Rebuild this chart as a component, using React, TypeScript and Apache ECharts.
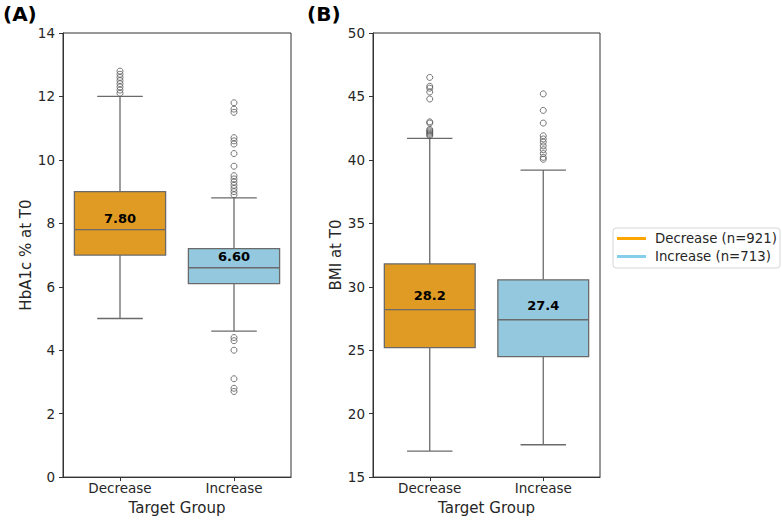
import React, { useEffect, useRef } from "react";
import * as echarts from "echarts";

// Groups on the x axis and their sizes
const categories = ["Decrease", "Increase"];
const groupCounts = [921, 713];

// Box statistics per group: [lower whisker, Q1, median, Q3, upper whisker]
const hba1cStats = [
  [5.0, 7.0, 7.8, 9.0, 12.0],
  [4.6, 6.1, 6.6, 7.2, 8.8],
];
const bmiStats = [
  [17.05, 25.2, 28.2, 31.8, 41.7],
  [17.55, 24.5, 27.4, 30.55, 39.2],
];

// Points beyond the whiskers
const hba1cOutliersDecrease = [12.1, 12.2, 12.3, 12.4, 12.5, 12.6, 12.7, 12.8];
const hba1cOutliersIncrease = [
  11.8, 11.6, 11.5, 10.7, 10.6, 10.5, 10.2, 9.8, 9.5, 9.4, 9.3, 9.2, 9.1, 9.0,
  8.9, 4.4, 4.3, 4.0, 3.1, 2.8, 2.7,
];
const bmiOutliersDecrease = [
  46.5, 45.8, 45.65, 45.35, 44.8, 43.0, 42.9, 42.4, 42.3, 42.2, 42.1, 42.0, 41.9,
];
const bmiOutliersIncrease = [
  45.2, 43.9, 42.9, 41.9, 41.65, 41.4, 41.1, 40.8, 40.5, 40.2, 40.05,
];

// Axis ranges and ticks
const hba1cAxis = { min: 0, max: 14, interval: 2 };
const bmiAxis = { min: 15, max: 50, interval: 5 };

const boxColors = ["#E09B24", "#93C8DF"];
const legendColors = ["#FFA500", "#87CEEB"];
const FONT = "DejaVu Sans";
const EDGE = "#6a6a6a";

function boxRows(stats: number[][]) {
  return stats.map((s, i) => [i, ...s]);
}

function outlierRows(lists: number[][]) {
  const rows: number[][] = [];
  lists.forEach((vals, i) => vals.forEach((v) => rows.push([i, v])));
  return rows;
}

function makeRenderItem(digits: number, labelOffset: number) {
  return (params: any, api: any) => {
    const c = api.value(0);
    const lo = api.coord([c, api.value(1)]);
    const q1 = api.coord([c, api.value(2)]);
    const med = api.coord([c, api.value(3)]);
    const q3 = api.coord([c, api.value(4)]);
    const hi = api.coord([c, api.value(5)]);
    const band = api.size([1, 0])[0];
    const w = band * 0.8;
    const cap = w / 2;
    const cx = med[0];
    const fill = boxColors[params.dataIndex];
    const lineStyle = { stroke: EDGE, lineWidth: 1.3 };
    return {
      type: "group",
      children: [
        { type: "line", shape: { x1: cx, y1: hi[1], x2: cx, y2: q3[1] }, style: lineStyle },
        { type: "line", shape: { x1: cx, y1: q1[1], x2: cx, y2: lo[1] }, style: lineStyle },
        { type: "line", shape: { x1: cx - cap / 2, y1: hi[1], x2: cx + cap / 2, y2: hi[1] }, style: lineStyle },
        { type: "line", shape: { x1: cx - cap / 2, y1: lo[1], x2: cx + cap / 2, y2: lo[1] }, style: lineStyle },
        {
          type: "rect",
          shape: { x: cx - w / 2, y: q3[1], width: w, height: q1[1] - q3[1] },
          style: { fill, stroke: EDGE, lineWidth: 1.3 },
        },
        { type: "line", shape: { x1: cx - w / 2, y1: med[1], x2: cx + w / 2, y2: med[1] }, style: lineStyle },
        {
          type: "text",
          x: cx,
          y: med[1] - labelOffset,
          style: {
            text: Number(api.value(3)).toFixed(digits),
            align: "center",
            verticalAlign: "middle",
            textAlign: "center",
            textVerticalAlign: "middle",
            fontFamily: FONT,
            fontWeight: "bold",
            fontSize: 13,
            fill: "#000",
          },
        },
      ],
    };
  };
}

const tickText = { fontFamily: FONT, fontSize: 13.5, color: "#262626" };

function xAxisFor(gridIndex: number) {
  return {
    type: "category",
    gridIndex,
    data: categories,
    name: "Target Group",
    nameLocation: "middle",
    nameGap: 21,
    nameTextStyle: { fontFamily: FONT, fontSize: 15, color: "#262626" },
    axisLine: { show: true, lineStyle: { color: "#333", width: 1 } },
    axisTick: { show: true, alignWithLabel: true, length: 4, lineStyle: { color: "#333" } },
    axisLabel: { ...tickText, margin: 4 },
    splitLine: { show: false },
  };
}

function yAxisFor(gridIndex: number, name: string, range: { min: number; max: number; interval: number }) {
  return {
    type: "value",
    gridIndex,
    min: range.min,
    max: range.max,
    interval: range.interval,
    name,
    nameLocation: "middle",
    nameGap: 24,
    nameTextStyle: { fontFamily: FONT, fontSize: 15, color: "#262626" },
    axisLine: { show: true, lineStyle: { color: "#333", width: 1 } },
    axisTick: { show: true, length: 4, lineStyle: { color: "#333" } },
    axisLabel: { ...tickText, margin: 8 },
    splitLine: { show: false },
  };
}

const outlierStyle = {
  color: "rgba(0,0,0,0)",
  borderColor: "#555",
  borderWidth: 1,
};

export default function App() {
  const ref = useRef<HTMLDivElement>(null);

  useEffect(() => {
    document.body.style.margin = "0";
    if (!ref.current) return;
    const chart = echarts.init(ref.current, null, { renderer: "svg" });

    const legendX = 613;
    const legendY = 228;
    const legendChildren: any[] = [
      {
        type: "rect",
        shape: { x: legendX, y: legendY, width: 167, height: 40, r: 3 },
        style: { fill: "#fff", stroke: "#d6d6d6", lineWidth: 1 },
      },
    ];
    categories.forEach((cat, i) => {
      const y = legendY + 10.5 + i * 18;
      legendChildren.push({
        type: "line",
        shape: { x1: legendX + 4, y1: y, x2: legendX + 33, y2: y },
        style: { stroke: legendColors[i], lineWidth: 3 },
      });
      legendChildren.push({
        type: "text",
        x: legendX + 42,
        y,
        style: {
          text: `${cat} (n=${groupCounts[i]})`,
          fontFamily: FONT,
          fontSize: 13.3,
          fill: "#262626",
          verticalAlign: "middle",
          textVerticalAlign: "middle",
        },
      });
    });

    chart.setOption({
      animation: false,
      backgroundColor: "#fff",
      grid: [
        { left: 63, top: 33, width: 228, height: 449, show: true, borderColor: "#333", borderWidth: 1 },
        { left: 373, top: 33, width: 227, height: 449, show: true, borderColor: "#333", borderWidth: 1 },
      ],
      xAxis: [xAxisFor(0), xAxisFor(1)],
      yAxis: [yAxisFor(0, "HbA1c % at T0", hba1cAxis), yAxisFor(1, "BMI at T0", bmiAxis)],
      series: [
        {
          type: "custom",
          xAxisIndex: 0,
          yAxisIndex: 0,
          renderItem: makeRenderItem(2, 11),
          encode: { x: 0, y: [1, 2, 3, 4, 5] },
          data: boxRows(hba1cStats),
        },
        {
          type: "scatter",
          xAxisIndex: 0,
          yAxisIndex: 0,
          symbol: "circle",
          symbolSize: 6,
          itemStyle: outlierStyle,
          data: outlierRows([hba1cOutliersDecrease, hba1cOutliersIncrease]),
        },
        {
          type: "custom",
          xAxisIndex: 1,
          yAxisIndex: 1,
          renderItem: makeRenderItem(1, 14),
          encode: { x: 0, y: [1, 2, 3, 4, 5] },
          data: boxRows(bmiStats),
        },
        {
          type: "scatter",
          xAxisIndex: 1,
          yAxisIndex: 1,
          symbol: "circle",
          symbolSize: 6,
          itemStyle: outlierStyle,
          data: outlierRows([bmiOutliersDecrease, bmiOutliersIncrease]),
        },
      ],
      graphic: [
        {
          type: "text",
          left: 3,
          top: 4,
          style: { text: "(A)", fontFamily: FONT, fontWeight: "bold", fontSize: 20, fill: "#000" },
        },
        {
          type: "text",
          left: 307,
          top: 4,
          style: { text: "(B)", fontFamily: FONT, fontWeight: "bold", fontSize: 20, fill: "#000" },
        },
        { type: "group", children: legendChildren },
      ],
    });

    return () => chart.dispose();
  }, []);

  return (
    <div
      ref={ref}
      style={{ position: "fixed", left: 0, top: 0, width: 782, height: 520 }}
    />
  );
}
